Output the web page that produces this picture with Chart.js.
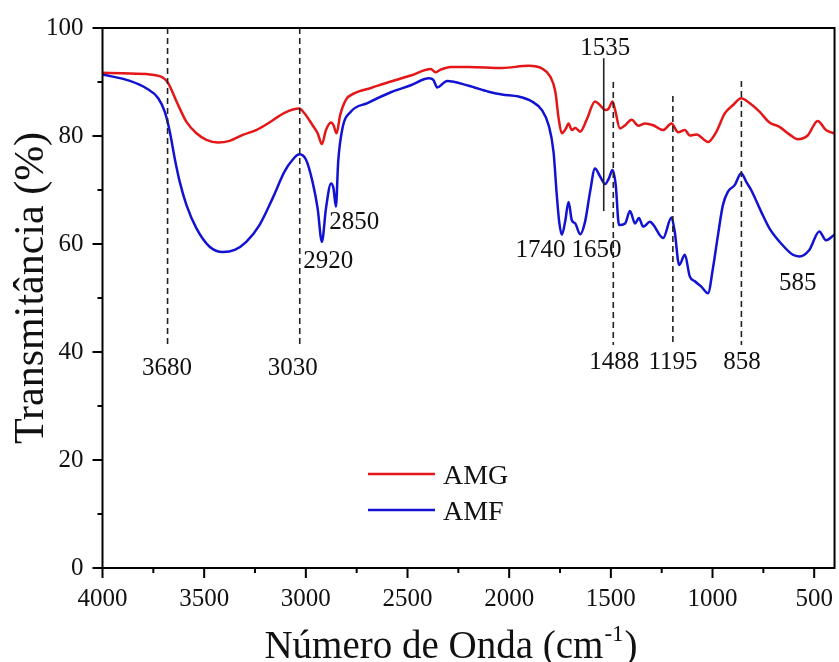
<!DOCTYPE html>
<html>
<head>
<meta charset="utf-8">
<script src="https://cdn.jsdelivr.net/npm/chart.js@4.4.1/dist/chart.umd.min.js"></script>
<style>
html,body{margin:0;padding:0;background:#fff;}
#wrap{width:839px;height:662px;}
</style>
</head>
<body>
<div id="wrap"><canvas id="c" width="839" height="662"></canvas></div>
<script>
// ---------- data ----------
const seriesNames = ['AMG', 'AMF'];

const waveAMG = [4000,3900,3767,3702,3677,3636,3587,3538,3489,3432,3375,3310,3244,3179,3105,3032,3007,2967,2942,2921,2901,2876,2864,2849,2831,2803,2762,2680,2582,2484,2386,2362,2337,2288,2199,2035,1904,1839,1798,1773,1757,1741,1721,1708,1692,1675,1651,1619,1578,1553,1528,1512,1492,1479,1455,1430,1398,1365,1332,1292,1243,1202,1169,1136,1112,1079,1022,981,940,900,859,818,769,720,671,622,581,532,483,442,401];
const transAMG = [91.7,91.6,91.4,90.8,89.8,86.4,82.6,80.5,79.3,78.8,79.1,80.2,81.1,82.5,84.3,85.1,84.2,82.0,80.5,78.5,81.1,82.5,82.0,80.5,83.9,86.7,87.9,88.9,90.1,91.2,92.4,91.8,92.3,92.8,92.8,92.6,93.0,92.5,91.0,88.2,83.3,80.5,81.4,82.3,81.1,81.5,80.8,83.0,86.4,85.7,84.8,85.0,86.4,84.8,81.4,82.0,83.0,81.9,82.3,82.0,81.1,82.3,80.7,81.1,80.1,80.3,78.9,80.8,84.2,85.7,87.0,86.1,84.5,82.5,81.7,80.3,79.4,80.1,82.8,81.1,80.5];

const waveAMF = [4000,3865,3783,3726,3694,3669,3645,3620,3587,3538,3473,3408,3350,3293,3228,3163,3105,3065,3032,2999,2967,2942,2921,2901,2876,2864,2852,2841,2820,2779,2697,2582,2484,2395,2373,2354,2305,2199,2101,2035,1953,1888,1839,1806,1782,1766,1754,1741,1725,1708,1692,1675,1651,1627,1602,1578,1553,1528,1509,1492,1476,1460,1430,1406,1381,1362,1341,1308,1292,1243,1202,1186,1164,1136,1112,1087,1055,1022,998,973,949,924,891,859,834,810,761,720,663,605,573,524,475,442,401];
const transAMF = [91.4,90.2,88.8,87.0,84.5,80.8,75.9,71.5,67.2,62.9,59.5,58.5,58.9,60.4,63.5,68.5,73.4,75.6,76.6,75.6,71.5,66.6,60.4,66.6,71.2,70.3,66.9,75.2,81.4,84.5,86.1,88.1,89.4,90.7,90.4,89.0,90.2,89.3,88.2,87.7,87.3,86.4,84.8,82.0,77.1,69.1,64.1,61.7,64.1,67.8,64.4,63.8,61.8,64.1,69.7,74.0,72.5,71.1,72.2,73.7,70.9,63.5,63.8,66.1,63.8,64.8,63.2,64.1,63.6,61.1,64.9,62.3,56.1,58.0,54.0,53.1,52.1,50.9,55.5,61.7,67.2,69.7,70.9,73.1,71.5,70.0,66.0,62.9,60.1,58.0,57.7,58.9,62.3,60.7,61.7];

const xTickLabels = [4000,3500,3000,2500,2000,1500,1000,500];
const yTickLabels = [0,20,40,60,80,100];

// marked bands (cm-1)
const dashedBands = [3680, 3030, 1488, 1195, 858];
const solidBands = [1535];
const bandLabels = ['3680','3030','2920','2850','1740','1650','1535','585','1488','1195','858'];

// ---------- layout / style of annotations (data units) ----------
const dashedSpan = {3680:[100,41.3], 3030:[100,41.3], 1488:[90,41.3], 1195:[87.4,41.3], 858:[90.2,41.3]};
const solidSpan = {1535:[94.4,66.1]};
const labelPos = {
  '3680':[3683,37.4], '3030':[3064,37.4], '2920':[2890,57.2], '2850':[2762,64.3],
  '1740':[1846,59.1], '1650':[1571,59.1], '1535':[1527,96.5], '585':[581,53.1],
  '1488':[1483,38.5], '1195':[1194,38.5], '858':[855,38.5]
};

const SERIF = "'Liberation Serif','Times New Roman',serif";
const colors = ['rgb(228,22,24)', 'rgb(18,18,210)'];

function pts(xs, ys){ return xs.map((x,i)=>({x:x, y:ys[i]})); }

const decor = {
  id: 'decor',
  afterDraw(chart){
    const ctx = chart.ctx, a = chart.chartArea;
    const xs = chart.scales.x, ys = chart.scales.y;
    ctx.save();
    // frame
    ctx.strokeStyle = '#000'; ctx.lineWidth = 2;
    ctx.strokeRect(a.left, a.top, a.right - a.left, a.bottom - a.top);
    // ticks
    ctx.beginPath();
    for (let v = 0; v <= 100; v += 10){
      const y = ys.getPixelForValue(v);
      const len = (v % 20 === 0) ? 10 : 5;
      ctx.moveTo(a.left, y); ctx.lineTo(a.left - len, y);
    }
    for (let v = 500; v <= 4000; v += 250){
      const x = xs.getPixelForValue(v);
      const len = (v % 500 === 0) ? 10 : 5;
      ctx.moveTo(x, a.bottom); ctx.lineTo(x, a.bottom + len);
    }
    ctx.stroke();
    // band lines
    ctx.strokeStyle = '#222'; ctx.lineWidth = 1.6;
    ctx.setLineDash([6,4]);
    dashedBands.forEach(b=>{
      const x = xs.getPixelForValue(b);
      const s = dashedSpan[b];
      ctx.beginPath();
      ctx.moveTo(x, ys.getPixelForValue(s[0]));
      ctx.lineTo(x, ys.getPixelForValue(s[1]));
      ctx.stroke();
    });
    ctx.setLineDash([]);
    solidBands.forEach(b=>{
      const x = xs.getPixelForValue(b);
      const s = solidSpan[b];
      ctx.beginPath();
      ctx.moveTo(x, ys.getPixelForValue(s[0]));
      ctx.lineTo(x, ys.getPixelForValue(s[1]));
      ctx.stroke();
    });
    // band labels
    ctx.fillStyle = '#111';
    ctx.font = '25px ' + SERIF;
    ctx.textAlign = 'center'; ctx.textBaseline = 'alphabetic';
    bandLabels.forEach(t=>{
      const p = labelPos[t];
      ctx.fillText(t, xs.getPixelForValue(p[0]), ys.getPixelForValue(p[1]) + 8.5);
    });
    // legend
    ctx.font = '28px ' + SERIF;
    ctx.textAlign = 'left';
    chart.data.datasets.forEach((ds, i)=>{
      const y = 474 + i * 36;
      ctx.strokeStyle = ds.borderColor; ctx.lineWidth = 2.5;
      ctx.beginPath(); ctx.moveTo(368, y); ctx.lineTo(435, y); ctx.stroke();
      ctx.fillStyle = '#111';
      ctx.fillText(ds.label, 443, y + 9.5);
    });
    // axis titles
    ctx.fillStyle = '#111';
    ctx.font = '42px ' + SERIF;
    ctx.save();
    ctx.translate(43, 288);
    ctx.rotate(-Math.PI/2);
    ctx.textAlign = 'center';
    ctx.fillText('Transmitância (%)', 0, 0);
    ctx.restore();
    // x title with superscript
    const main1 = 'Número de Onda (cm', sup = '-1', main2 = ')';
    ctx.font = '39px ' + SERIF;
    const w1 = ctx.measureText(main1).width, w3 = ctx.measureText(main2).width;
    ctx.font = '23px ' + SERIF;
    const w2 = ctx.measureText(sup).width;
    let x0 = 450 - (w1 + w2 + w3) / 2;
    const base = 658;
    ctx.textAlign = 'left';
    ctx.font = '39px ' + SERIF;
    ctx.fillText(main1, x0, base);
    ctx.font = '23px ' + SERIF;
    ctx.fillText(sup, x0 + w1 + 1, base - 17);
    ctx.font = '39px ' + SERIF;
    ctx.fillText(main2, x0 + w1 + w2 + 2, base);
    ctx.restore();
  }
};

new Chart(document.getElementById('c'), {
  type: 'line',
  data: {
    datasets: [
      {label: seriesNames[0], data: pts(waveAMG, transAMG), borderColor: colors[0], borderWidth: 2.5, pointRadius: 0, cubicInterpolationMode: 'monotone', fill: false},
      {label: seriesNames[1], data: pts(waveAMF, transAMF), borderColor: colors[1], borderWidth: 2.5, pointRadius: 0, cubicInterpolationMode: 'monotone', fill: false}
    ]
  },
  options: {
    responsive: false,
    devicePixelRatio: 1,
    animation: false,
    layout: {padding: {top: 28, right: 2, left: 0, bottom: 0}},
    plugins: {legend: {display: false}, tooltip: {enabled: false}},
    scales: {
      x: {
        type: 'linear', reverse: true, min: 400, max: 4000,
        afterFit(s){ s.height = 94; },
        grid: {display: true, drawOnChartArea: false, drawTicks: true, tickLength: 10, color: 'rgba(0,0,0,0)'},
        border: {display: false},
        ticks: {
          stepSize: 250, includeBounds: false, autoSkip: false, maxRotation: 0, padding: 6,
          color: '#111', font: {family: SERIF, size: 25},
          callback: v => xTickLabels.includes(v) ? String(v) : ''
        }
      },
      y: {
        type: 'linear', min: 0, max: 100,
        afterFit(s){ s.width = 102.5; },
        grid: {display: true, drawOnChartArea: false, drawTicks: true, tickLength: 10, color: 'rgba(0,0,0,0)'},
        border: {display: false},
        ticks: {
          stepSize: 10, autoSkip: false, padding: 9,
          color: '#111', font: {family: SERIF, size: 25},
          callback: v => yTickLabels.includes(v) ? String(v) : ''
        }
      }
    }
  },
  plugins: [decor]
});
</script>
</body>
</html>
